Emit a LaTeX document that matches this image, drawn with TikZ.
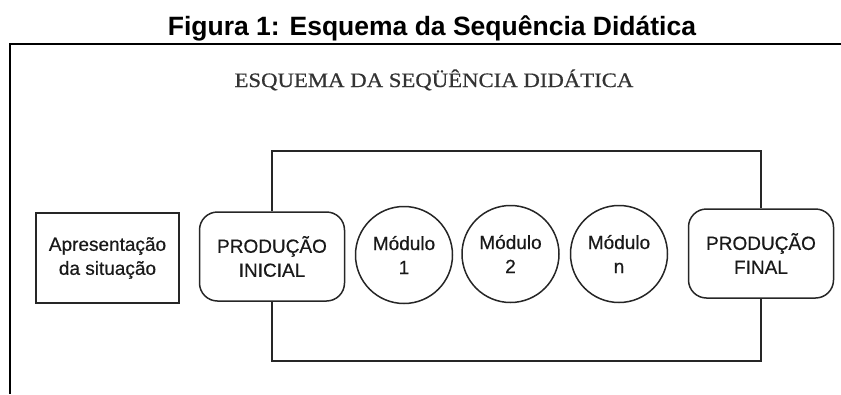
\documentclass[tikz,border=0pt]{standalone}
\usepackage{fontspec}
\setmainfont{Liberation Sans}
\newfontfamily\bodyf{Liberation Sans}[FakeBold=0.5]
\newfontfamily\serifsub{Liberation Serif}[FakeBold=0.6]
\usepackage{graphicx}
\begin{document}
\begin{tikzpicture}[x=1pt,y=-1pt,
  lbl/.style={font=\bodyf\fontsize{19}{24}\selectfont, align=center, text=black!90},
  boxsq/.style={lbl, draw=black!85, line width=1.5pt, minimum width=143pt, minimum height=90pt, inner sep=0pt},
  boxrd/.style={boxsq, rounded corners=18pt, minimum width=145pt, minimum height=89pt},
  modc/.style={lbl, draw=black!85, line width=1.5pt, circle, minimum size=97pt, inner sep=0pt},
  conn/.style={draw=black!85, line width=1.5pt},
  frame/.style={draw=black, line width=2pt}]
\useasboundingbox (0,0) rectangle (841,394);
\node[anchor=base] (title) at (432,35) {\fontsize{26.5}{30}\selectfont\bfseries Figura 1: Esquema da Sequência Didática};
\draw[frame] (841,44) -- (10,44) -- (10,394);
\node[anchor=base, text=black!80] (sub) at (434,87) {\serifsub\fontsize{20.5}{22}\selectfont\scalebox{1.11}[1]{ESQUEMA DA SEQÜÊNCIA DIDÁTICA}};
\node[boxsq] (apr) at (107.5,258) {Apresentação\\da situação};
\node[boxrd] (ini) at (272,256.5) {PRODUÇÃO\\INICIAL};
\node[modc] (m1) at (404,255) {Módulo\\1};
\node[modc] (m2) at (510.5,254) {Módulo\\2};
\node[modc] (mn) at (619,254) {Módulo\\n};
\node[boxrd] (fin) at (761,253.5) {PRODUÇÃO\\FINAL};
\coordinate (ctop) at (0,151);
\coordinate (cbot) at (0,361);
\draw[conn] (ini.north) -- (ini.north |- ctop) -| (fin.north);
\draw[conn] (ini.south) -- (ini.south |- cbot) -| (fin.south);
\end{tikzpicture}
\end{document}
